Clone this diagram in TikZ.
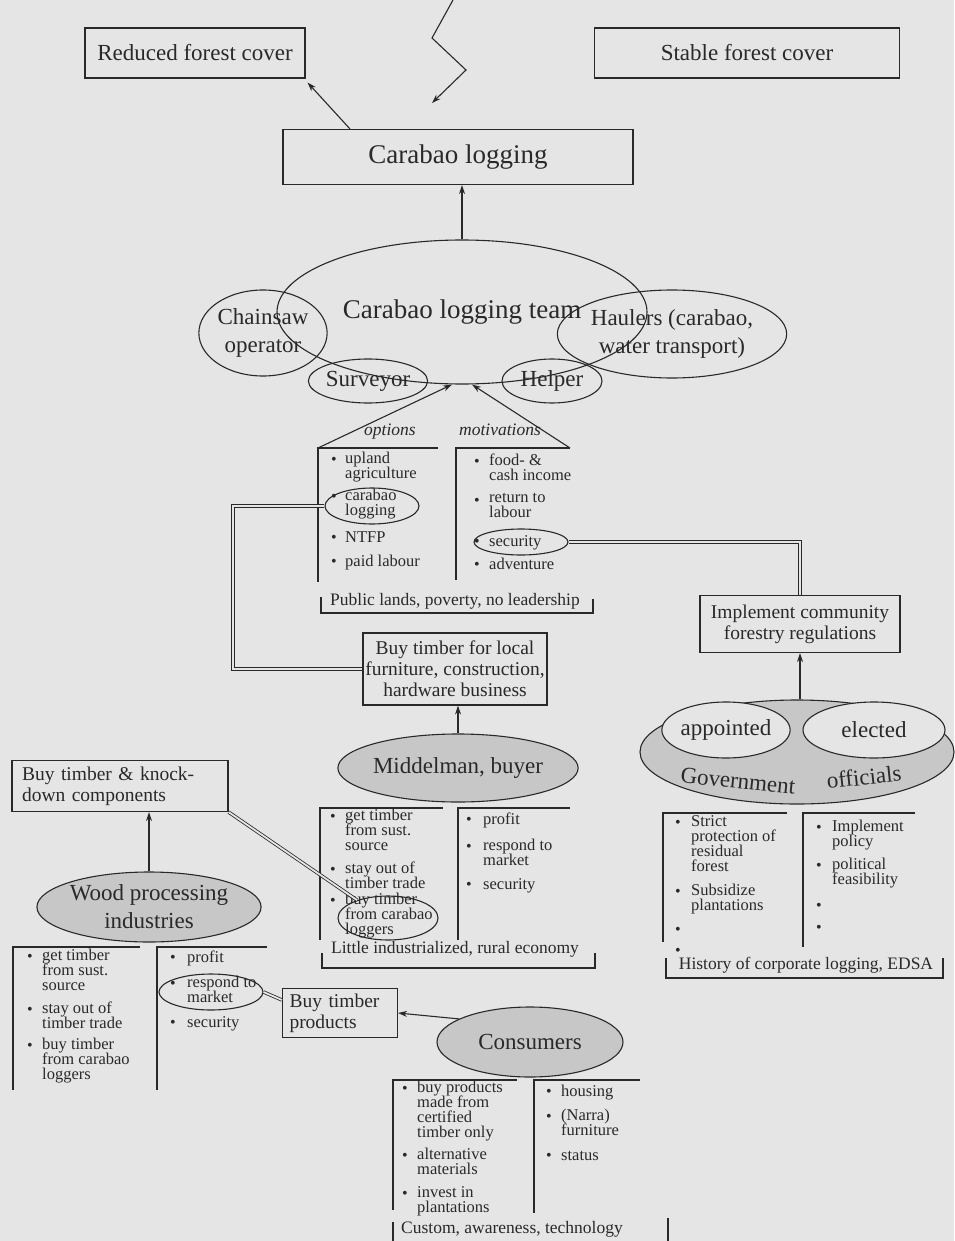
\documentclass[tikz,border=0pt]{standalone}
\usepackage{fontspec}
\setmainfont{Liberation Serif}
\usetikzlibrary{positioning, shapes.geometric, arrows.meta}

\definecolor{paper}{gray}{0.90}
\definecolor{shade}{gray}{0.78}
\definecolor{ink}{gray}{0.16}

\newcommand{\titlefont}{\fontsize{27}{30}\selectfont}
\newcommand{\labfont}{\fontsize{23}{28}\selectfont}
\newcommand{\boxfont}{\fontsize{19.5}{21}\selectfont}
\newcommand{\brkfont}{\fontsize{17.5}{18}\selectfont}
\newcommand{\listfont}{\fontsize{16.5}{15}\selectfont\lineskiplimit=-20pt}
\newcommand{\dotfont}{\fontsize{16}{16}\selectfont}

\tikzset{
  box/.style={draw=ink, line width=1.1pt, fill=paper, inner sep=0pt, align=center, text=ink},
  ell/.style={ellipse, draw=ink, line width=1.1pt, inner sep=0pt, align=center, text=ink},
  gell/.style={ell, fill=shade},
  item/.style={anchor=north west, yshift=12pt, inner sep=0pt, align=left, font=\listfont, text=ink,
    execute at begin node=\rule{0pt}{12pt}},
  bul/.style={anchor=base, inner sep=0pt, font=\dotfont, text=ink},
  brk/.style={font=\brkfont, text=ink},
  col/.style={draw=ink, line width=1.1pt},
  arr/.style={draw=ink, line width=1.1pt, -{Stealth[length=9pt, width=6pt]}},
  dbl/.style={draw=ink, line width=0.8pt, double=paper, double distance=1.8pt},
}

\begin{document}
\begin{tikzpicture}[x=1pt, y=-1pt]
    % Page
    \fill[paper] (0,0) rectangle (954,1241);
    \useasboundingbox (0,0) rectangle (954,1241);

    % Top: outcomes
    \node[box, minimum width=220pt, minimum height=50pt, font=\labfont] (red) at (195,53) {Reduced forest cover};
    \node[box, minimum width=305pt, minimum height=50pt, font=\labfont] (stab) at (747,53) {Stable forest cover};
    \node[box, minimum width=350pt, minimum height=55pt, font=\titlefont] (log) at (458,157) {Carabao logging};

    \coordinate (z0) at (453,0);
    \coordinate (z1) at (432,38);
    \coordinate (z2) at (466,70);
    \coordinate (z3) at (432,103);
    \draw[arr] (z0) -- (z1) -- (z2) -- (z3);
    \draw[arr] ([xshift=-108pt]log.north) -- ([shift={(2pt,-4pt)}]red.south east);

    % Logging team
    \node[ell, minimum width=370pt, minimum height=144pt, font=\titlefont] (team) at (462,312) {Carabao logging team};
    \node[ell, minimum width=126pt, minimum height=86pt, font=\labfont] (saw) at (263,333) {Chainsaw\\operator};
    \node[ell, minimum width=176pt, minimum height=88pt, font=\labfont] (haul) at (672,334) {Haulers (carabao,\\water transport)};
    \node[ell, minimum width=104pt, minimum height=44pt, font=\labfont] (surv) at (368,381) {Surveyor};
    \node[ell, minimum width=100pt, minimum height=44pt, font=\labfont] (help) at (552,381) {Helper};
    \draw[arr] (team.north) -- (team.north |- log.south);

    % Options and motivations
    \coordinate (optTL) at (318,448);
    \coordinate (optTR) at (438,448);
    \coordinate (optBL) at (318,582);
    \coordinate (motTL) at (456,448);
    \coordinate (motTR) at (570,448);
    \coordinate (motBL) at (456,580);
    \draw[col] (optTR) -- (optTL) -- (optBL);
    \draw[col] (motTR) -- (motTL) -- (motBL);
    \draw[arr] (optTL) -- ([xshift=-10pt]team.south);
    \draw[arr] (motTR) -- ([xshift=10pt]team.south);
    \node[font=\brkfont\itshape, text=ink] (optlab) at (390,432) {options};
    \node[font=\brkfont\itshape, text=ink] (motlab) at (500,430) {motivations};

    \foreach \y/\t [count=\i] in {464/{upland\\agriculture}, 501/{carabao\\logging}, 542/NTFP, 566/{paid labour}} {
      \node[item] (opt\i) at (345,\y) {\t};
      \node[bul] (optd\i) at (334,\y) {•};
    }
    \foreach \y/\t [count=\i] in {466/{food- \&\\cash income}, 505/{return to\\labour}, 546/security, 569/adventure} {
      \node[item] (mot\i) at (489,\y) {\t};
      \node[bul] (motd\i) at (477,\y) {•};
    }
    \node[ell, minimum width=94pt, minimum height=36pt] (crb) at (372,506) {};
    \node[ell, minimum width=94pt, minimum height=26pt] (sec) at (521,542) {};

    \draw[col] (321,597) -- (321,613) -- (593,613) -- (593,599);
    \node[brk] (pub) at (455,601) {Public lands, poverty, no leadership};

    % Local buyers and regulations
    \node[box, minimum width=184pt, minimum height=72pt, font=\boxfont] (local) at (455,669) {Buy timber for local\\furniture, construction,\\hardware business};
    \node[box, minimum width=200pt, minimum height=57pt, font=\boxfont] (impl) at (800,624) {Implement community\\forestry regulations};

    \coordinate (lnkA) at (233,506);
    \coordinate (lnkB) at (233,669);
    \draw[dbl] (crb.west) -- (lnkA) -- (lnkB) -- (local.west);
    \coordinate (secA) at (800,542);
    \draw[dbl] (sec.east) -- (secA) -- (impl.north);

    % Government officials
    \node[gell, minimum width=314pt, minimum height=104pt] (gov) at (797,752) {};
    \node[ell, fill=paper, minimum width=124pt, minimum height=56pt, font=\labfont] (appt) at (726,730) {appointed};
    \node[ell, fill=paper, minimum width=142pt, minimum height=56pt, font=\labfont] (elec) at (874,730) {elected};
    \node[font=\labfont, text=ink, rotate=-6] (govA) at (738,781) {Government};
    \node[font=\labfont, text=ink, rotate=6] (govB) at (864,777) {officials};
    \draw[arr] (gov.north -| impl.south) -- (impl.south);

    \draw[col] (787,813) -- (663,813) -- (663,942);
    \draw[col] (915,813) -- (803,813) -- (803,947);
    \foreach \y/\t [count=\i] in {827/{Strict\\protection of\\residual\\forest}, 896/{Subsidize\\plantations}} {
      \node[item] (gvl\i) at (691,\y) {\t};
      \node[bul] (gvld\i) at (678,\y) {•};
    }
    \foreach \y/\t [count=\i] in {832/{Implement\\policy}, 870/{political\\feasibility}} {
      \node[item] (gvr\i) at (832,\y) {\t};
      \node[bul] (gvrd\i) at (819,\y) {•};
    }
    \node[bul] (gvle1) at (678,934) {•};
    \node[bul] (gvle2) at (678,955) {•};
    \node[bul] (gvre1) at (819,910) {•};
    \node[bul] (gvre2) at (819,932) {•};
    \draw[col] (666,958) -- (666,978) -- (943,978) -- (943,958);
    \node[brk] (hist) at (806,965) {History of corporate logging, EDSA};

    % Middleman
    \node[gell, minimum width=190pt, minimum height=68pt, font=\labfont] (mid) at (458,768) {Middelman, buyer};
    \draw[arr] (mid.north) -- (mid.north |- local.south);
    \draw[col] (443,808) -- (320,808) -- (320,940);
    \draw[col] (570,808) -- (458,808) -- (458,940);
    \foreach \y/\t [count=\i] in {821/{get timber\\from sust.\\source}, 874/{stay out of\\timber trade}, 905/{buy timber\\from carabao\\loggers}} {
      \node[item] (mdl\i) at (345,\y) {\t};
      \node[bul] (mdld\i) at (333,\y) {•};
    }
    \foreach \y/\t [count=\i] in {824/profit, 851/{respond to\\market}, 889/security} {
      \node[item] (mdr\i) at (483,\y) {\t};
      \node[bul] (mdrd\i) at (469,\y) {•};
    }
    \node[ell, minimum width=100pt, minimum height=44pt] (buyc) at (388,918) {};
    \draw[col] (322,953) -- (322,968) -- (595,968) -- (595,953);
    \node[brk] (rural) at (455,949) {Little industrialized, rural economy};

    % Wood processing industries
    \node[box, text width=196pt, inner xsep=10pt, minimum height=51pt, align=left, font=\boxfont] (knock) at (120,786) {Buy timber \& knock-\\down components};
    \node[gell, minimum width=198pt, minimum height=70pt, font=\labfont] (wood) at (149,907) {Wood processing\\industries};
    \draw[arr] (wood.north) -- (wood.north |- knock.south);
    \draw[dbl] (knock.south east) -- (buyc.150);

    \draw[col] (140,947) -- (13,947) -- (13,1090);
    \draw[col] (267,947) -- (157,947) -- (157,1090);
    \foreach \y/\t [count=\i] in {961/{get timber\\from sust.\\source}, 1014/{stay out of\\timber trade}, 1050/{buy timber\\from carabao\\loggers}} {
      \node[item] (wdl\i) at (42,\y) {\t};
      \node[bul] (wdld\i) at (30,\y) {•};
    }
    \foreach \y/\t [count=\i] in {962/profit, 988/{respond to\\market}, 1027/security} {
      \node[item] (wdr\i) at (187,\y) {\t};
      \node[bul] (wdrd\i) at (173,\y) {•};
    }
    \node[ell, minimum width=104pt, minimum height=36pt] (rsp) at (211,992) {};

    % Consumers
    \node[box, text width=101pt, inner xsep=7pt, minimum height=49pt, align=left, font=\boxfont] (prod) at (340,1013) {Buy timber\\products};
    \draw[dbl] (rsp.east) -- ([yshift=13pt]prod.west);
    \node[gell, minimum width=186pt, minimum height=70pt, font=\labfont] (cons) at (530,1042) {Consumers};
    \draw[arr] (cons.162) -- (prod.east);

    \draw[col] (517,1080) -- (393,1080) -- (393,1210);
    \draw[col] (640,1080) -- (534,1080) -- (534,1213);
    \foreach \y/\t [count=\i] in {1093/{buy products\\made from\\certified\\timber only}, 1160/{alternative\\materials}, 1198/{invest in\\plantations}} {
      \node[item] (csl\i) at (417,\y) {\t};
      \node[bul] (csld\i) at (405,\y) {•};
    }
    \foreach \y/\t [count=\i] in {1096/housing, 1121/{(Narra)\\furniture}, 1160/status} {
      \node[item] (csr\i) at (561,\y) {\t};
      \node[bul] (csrd\i) at (549,\y) {•};
    }
    \draw[col] (393,1222) -- (393,1245);
    \draw[col] (668,1218) -- (668,1245);
    \node[brk] (cust) at (512,1229) {Custom, awareness, technology};

\end{tikzpicture}
\end{document}
